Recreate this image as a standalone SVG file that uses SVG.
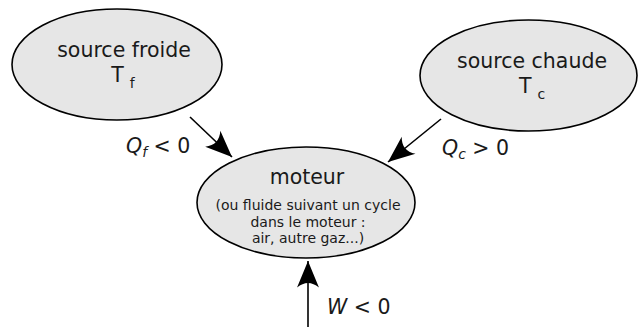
<svg xmlns="http://www.w3.org/2000/svg" width="640" height="327" viewBox="0 0 640 327">
<style>
.node{fill:#e6e6e6;stroke:#000;stroke-width:1.6}
text{font-family:"DejaVu Sans",sans-serif;fill:#1a1a1a}
.big{font-size:20.5px}
.small{font-size:14px}
.sub{font-size:14px}
.it{font-style:italic}
.conn{stroke:#000;stroke-width:1.6;fill:none}
</style>
<defs>
<marker id="ah" markerUnits="userSpaceOnUse" markerWidth="30" markerHeight="30" viewBox="-24 -12 26 24" refX="0" refY="0" orient="auto">
<path d="M0,0 L-23,-9.5 Q-15,0 -23,9.5 Z" fill="#000"/>
</marker>
</defs>
<rect width="640" height="327" fill="#fff"/>
<g id="froide">
<ellipse class="node" cx="117" cy="64.5" rx="105" ry="55.5"/>
<text class="big" x="124" y="57" text-anchor="middle">source froide</text>
<text class="big" x="123" y="82" text-anchor="middle">T<tspan class="sub" dx="6" dy="6">f</tspan></text>
</g>
<g id="chaude">
<ellipse class="node" cx="528.5" cy="75.5" rx="108.5" ry="55.5"/>
<text class="big" x="532" y="68" text-anchor="middle">source chaude</text>
<text class="big" x="532" y="93" text-anchor="middle">T<tspan class="sub" dx="6" dy="6">c</tspan></text>
</g>
<g id="moteur">
<ellipse class="node" cx="306" cy="202.5" rx="109" ry="55.5"/>
<text class="big" x="307" y="184" text-anchor="middle">moteur</text>
<text class="small" x="308" y="210" text-anchor="middle">(ou fluide suivant un cycle</text>
<text class="small" x="308" y="227" text-anchor="middle">dans le moteur :</text>
<text class="small" x="308" y="243" text-anchor="middle">air, autre gaz...)</text>
</g>
<g id="connectors">
<line class="conn" x1="190" y1="117" x2="232" y2="157" marker-end="url(#ah)"/>
<line class="conn" x1="441" y1="119" x2="388" y2="162" marker-end="url(#ah)"/>
<line class="conn" x1="308" y1="327" x2="308" y2="261" marker-end="url(#ah)"/>
</g>
<g id="labels">
<text class="big" x="126" y="153"><tspan class="it">Q</tspan><tspan class="sub it" dy="4">f</tspan><tspan dy="-4"> &lt; 0</tspan></text>
<text class="big" x="442" y="155"><tspan class="it">Q</tspan><tspan class="sub it" dy="4">c</tspan><tspan dy="-4"> &gt; 0</tspan></text>
<text class="big" x="327" y="314"><tspan class="it">W</tspan> &lt; 0</text>
</g>
</svg>
